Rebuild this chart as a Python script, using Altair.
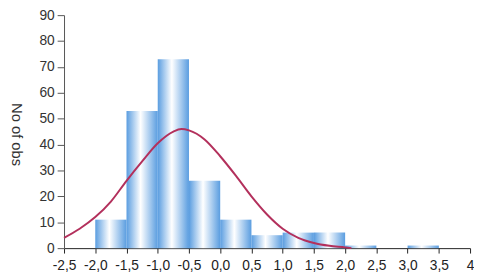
import altair as alt
import pandas as pd

bin_start = [-2.0, -1.5, -1.0, -0.5, 0.0, 0.5, 1.0, 1.5, 2.0, 2.5, 3.0]
bin_end = [-1.5, -1.0, -0.5, 0.0, 0.5, 1.0, 1.5, 2.0, 2.5, 3.0, 3.5]
counts = [11, 53, 73, 26, 11, 5, 6, 6, 1, 0, 1]

curve_x = [-2.5, -2.25, -2.0, -1.75, -1.5, -1.25, -1.0, -0.75, -0.62, -0.5, -0.25,
           0.0, 0.25, 0.5, 0.75, 1.0, 1.25, 1.5, 1.75, 2.0, 2.1]
curve_y = [4, 7.5, 12, 18, 26, 33.5, 40.5, 45, 46, 45.5, 42,
           35.5, 28, 20, 13, 7.5, 4, 2, 0.9, 0.3, 0]

x_ticks = [-2.5, -2.0, -1.5, -1.0, -0.5, 0.0, 0.5, 1.0, 1.5, 2.0, 2.5, 3.0, 3.5, 4.0]
y_ticks = [0, 10, 20, 30, 40, 50, 60, 70, 80, 90]

bars = pd.DataFrame({"x": bin_start, "x2": bin_end, "n": counts, "zero": [0] * len(counts)})
curve = pd.DataFrame({"x": curve_x, "y": curve_y})

FONT = "Liberation Sans Narrow, Liberation Sans, Arial"

xscale = alt.Scale(domain=[-2.5, 4.0], nice=False, zero=False)
yscale = alt.Scale(domain=[0, 90], nice=False)

grad = alt.Gradient(
    gradient="linear",
    x1=0, x2=1, y1=0, y2=0,
    stops=[
        alt.GradientStop(offset=0.0, color="#5a9de0"),
        alt.GradientStop(offset=0.45, color="#ffffff"),
        alt.GradientStop(offset=1.0, color="#5a9de0"),
    ],
)

x_axis = alt.Axis(values=x_ticks, title=None, grid=False,
                  labelExpr="datum.value == 4 ? '4' : replace(replace(format(datum.value, '.1f'), '.', ','), '\u2212', '-')",
                  labelFont=FONT, labelFontSize=14, labelColor="#222",
                  domainColor="#222", tickColor="#222", tickSize=5,
                  labelPadding=6, labelFlush=False, labelOverlap=False)
y_axis = alt.Axis(values=y_ticks, title="No of obs", grid=False,
                  titleAngle=90, titleFont=FONT, titleFontSize=15,
                  titleFontWeight="normal", titleColor="#333", titlePadding=31,
                  titleY=121,
                  labelFont=FONT, labelFontSize=14, labelColor="#333",
                  labelOverlap=False,
                  domainColor="#555", tickColor="#555", tickSize=7,
                  labelPadding=3)

bar_layer = alt.Chart(bars).mark_bar(fill=grad).encode(
    x=alt.X("x:Q", scale=xscale, axis=x_axis),
    x2="x2:Q",
    y=alt.Y("n:Q", scale=yscale, axis=y_axis),
    y2="zero:Q",
)

line_layer = alt.Chart(curve).mark_line(color="#b3305c", strokeWidth=2, interpolate="monotone").encode(
    x=alt.X("x:Q", scale=xscale, axis=x_axis),
    y=alt.Y("y:Q", scale=yscale, axis=y_axis),
)

chart = alt.layer(bar_layer, line_layer).properties(
    width=413, height=237,
    autosize=alt.AutoSizeParams(type="none"),
    padding={"left": 57, "top": 5, "right": 4, "bottom": 22},
).configure_view(stroke=None)

chart.save("out.html", embed_options={"renderer": "svg", "actions": False})
